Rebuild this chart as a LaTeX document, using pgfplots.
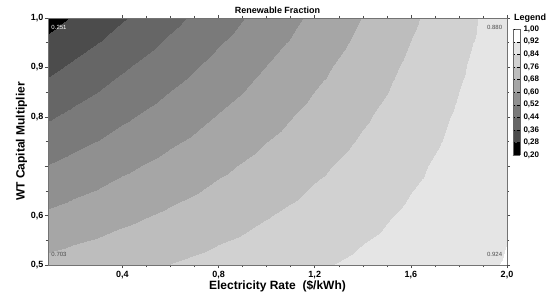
\documentclass[border=0pt]{standalone}
\usepackage{fontspec}
\setmainfont{Liberation Sans}
\usepackage{pgfplots}
\pgfplotsset{compat=1.18}
\begin{document}
\begin{tikzpicture}
\useasboundingbox (-48pt,-30pt) rectangle (504pt,265pt);
\begin{axis}[
  view={0}{90},
  scale only axis, width=459pt, height=247pt,
  xmin=0.09, xmax=2.0, ymin=0.5, ymax=1.0,
  axis on top,
  axis line style={draw=black!55, line width=0.6pt},
  tick style={draw=black!70, line width=0.5pt},
  tick align=outside,
  major tick length=3pt, minor tick length=2pt,
  xtick={0.4,0.8,1.2,1.6,2.0},
  minor x tick num=3,
  ytick={0.5,0.6,0.7,0.8,0.9,1.0},
  yticklabels={{0,5},{0,6},{},{0,8},{0,9},{1,0}},
  minor y tick num=1,
  xticklabel style={font=\bfseries\fontsize{9}{9}\selectfont, /pgf/number format/.cd, fixed, fixed zerofill, precision=1, use comma, assume math mode=true},
  yticklabel style={font=\bfseries\fontsize{9}{9}\selectfont, xshift=2pt},
  xlabel={Electricity Rate\ \ (\$/kWh)},
  ylabel={WT Capital Multiplier},
  label style={font=\bfseries\fontsize{12}{12}\selectfont},
  xlabel style={yshift=5pt},
  ylabel style={yshift=-3pt},
  title={Renewable Fraction},
  title style={font=\bfseries\fontsize{9}{9}\selectfont, yshift=-5pt},
  colormap={renew}{gray(0)=(0); gray(8)=(0.30); gray(16)=(0.40); gray(24)=(0.48); gray(32)=(0.565); gray(40)=(0.65); gray(48)=(0.74); gray(56)=(0.82); gray(64)=(0.90); gray(72)=(1); gray(80)=(1)},
  colormap access=piecewise constant,
  point meta min=0.2, point meta max=1.0,
  colorbar,
  colorbar style={
    at={(1.013,0.955)}, anchor=north west,
    scale only axis, width=7pt, height=126pt,
    ytick={0.2,0.28,0.36,0.44,0.52,0.6,0.68,0.76,0.84,0.92,1.0},
    yticklabel style={font=\bfseries\fontsize{8}{8}\selectfont, /pgf/number format/.cd, fixed, fixed zerofill, precision=2, use comma, assume math mode=true},
    axis line style={draw=black!60},
    tick style={draw=black},
    major tick length=2.5pt,
    title={Legend},
    title style={font=\bfseries\fontsize{9}{9}\selectfont, at={(0,1)}, anchor=south west, inner sep=1pt, yshift=0pt},
  },
]
\addplot3[surf, shader=interp, mesh/cols=11] table {
x y z
0.09 0.5 0.703
0.2 0.5 0.7157
0.4 0.5 0.7389
0.6 0.5 0.7620
0.8 0.5 0.7852
1.0 0.5 0.8083
1.2 0.5 0.8314
1.4 0.5 0.8546
1.6 0.5 0.8777
1.8 0.5 0.9009
2.0 0.5 0.924
0.09 0.6 0.6126
0.2 0.6 0.6300
0.4 0.6 0.6617
0.6 0.6 0.6934
0.8 0.6 0.7251
1.0 0.6 0.7568
1.2 0.6 0.7884
1.4 0.6 0.8202
1.6 0.6 0.8518
1.8 0.6 0.8835
2.0 0.6 0.9152
0.09 0.7 0.5222
0.2 0.7 0.5443
0.4 0.7 0.5846
0.6 0.7 0.6248
0.8 0.7 0.6650
1.0 0.7 0.7053
1.2 0.7 0.7455
1.4 0.7 0.7857
1.6 0.7 0.8259
1.8 0.7 0.8662
2.0 0.7 0.9064
0.09 0.8 0.4318
0.2 0.8 0.4586
0.4 0.8 0.5074
0.6 0.8 0.5562
0.8 0.8 0.6050
1.0 0.8 0.6537
1.2 0.8 0.7025
1.4 0.8 0.7513
1.6 0.8 0.8001
1.8 0.8 0.8488
2.0 0.8 0.8976
0.09 0.9 0.3414
0.2 0.9 0.3729
0.4 0.9 0.4303
0.6 0.9 0.4876
0.8 0.9 0.5449
1.0 0.9 0.6022
1.2 0.9 0.6596
1.4 0.9 0.7168
1.6 0.9 0.7742
1.8 0.9 0.8315
2.0 0.9 0.8888
0.09 1.0 0.251
0.2 1.0 0.2872
0.4 1.0 0.3531
0.6 1.0 0.4190
0.8 1.0 0.4848
1.0 1.0 0.5507
1.2 1.0 0.6166
1.4 1.0 0.6824
1.6 1.0 0.7483
1.8 1.0 0.8141
2.0 1.0 0.880
};
\node[font=\fontsize{6}{6}\selectfont, text=white, anchor=north west, inner sep=1pt] at (axis description cs:0.005,0.975) {0.251};
\node[font=\fontsize{6}{6}\selectfont, text=black!70, anchor=north east, inner sep=1pt] at (axis description cs:0.992,0.975) {0.880};
\node[font=\fontsize{6}{6}\selectfont, text=black!70, anchor=south west, inner sep=1pt] at (axis description cs:0.005,0.03) {0.703};
\node[font=\fontsize{6}{6}\selectfont, text=black!70, anchor=south east, inner sep=1pt] at (axis description cs:0.992,0.03) {0.924};
\end{axis}
\end{tikzpicture}
\end{document}
